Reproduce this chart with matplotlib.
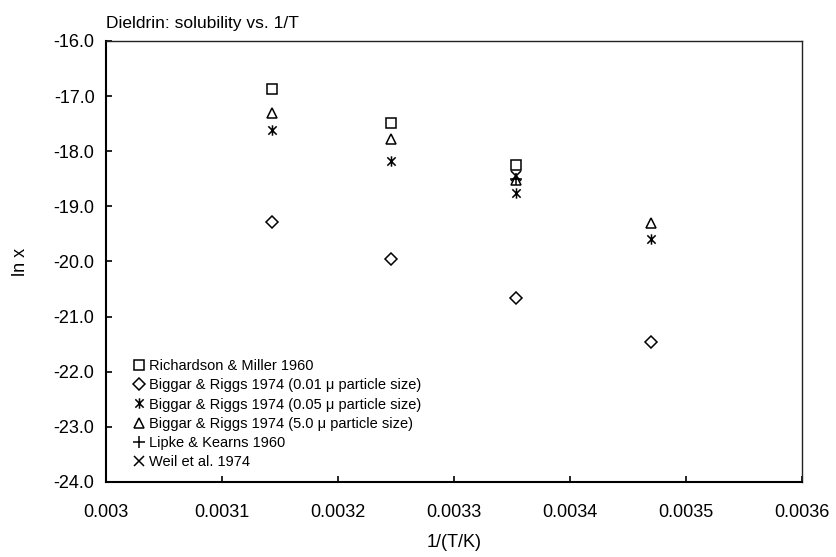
import matplotlib
matplotlib.use("Agg")
import matplotlib.pyplot as plt
from matplotlib.path import Path
from matplotlib.ticker import FuncFormatter, MultipleLocator

plt.rcParams['font.family'] = ['Liberation Sans', 'DejaVu Sans']

# 1/T values (K^-1) for 45, 35, 25 and 15 degC
inv_T = [0.0031432, 0.0032457, 0.0033540, 0.0034704]

richardson_1960 = [-16.87, -17.48, -18.25]
biggar_001 = [-19.29, -19.95, -20.67, -21.46]
biggar_005 = [-17.61, -18.18, -18.76, -19.60]
biggar_50 = [-17.30, -17.78, -18.53, -19.30]
lipke_inv_T = [0.0033540]
lipke_1960 = [-18.50]
weil_inv_T = [0.0033540]
weil_1974 = [-18.45]

x_ticks = [0.003, 0.0031, 0.0032, 0.0033, 0.0034, 0.0035, 0.0036]

# asterisk marker: a cross with a vertical bar through it
star = Path([(-1, -1), (1, 1), (-1, 1), (1, -1), (0, -1.25), (0, 1.25)],
            [Path.MOVETO, Path.LINETO, Path.MOVETO, Path.LINETO,
             Path.MOVETO, Path.LINETO])

fig = plt.figure(figsize=(8.37, 5.57), dpi=100)
ax = fig.add_axes([0.1263, 0.1347, 0.8315, 0.7917])

mk = dict(linestyle='none', color='black', markerfacecolor='none',
          markeredgewidth=1.1)
ax.plot(inv_T[:3], richardson_1960, marker='s', markersize=6.8,
        label='Richardson & Miller 1960', **mk)
ax.plot(inv_T, biggar_001, marker='D', markersize=6.0,
        label='Biggar & Riggs 1974 (0.01 \u03bc particle size)', **mk)
ax.plot(inv_T, biggar_005, marker=star, markersize=7.5,
        label='Biggar & Riggs 1974 (0.05 \u03bc particle size)', **mk)
ax.plot(inv_T, biggar_50, marker='^', markersize=6.8,
        label='Biggar & Riggs 1974 (5.0 \u03bc particle size)', **mk)
ax.plot(lipke_inv_T, lipke_1960, marker='+', markersize=8,
        label='Lipke & Kearns 1960', **mk)
ax.plot(weil_inv_T, weil_1974, marker='x', markersize=6.5,
        label='Weil et al. 1974', **mk)

ax.set_xlim(0.003, 0.0036)
ax.set_ylim(-24, -16)
ax.set_xticks(x_ticks)
ax.xaxis.set_major_formatter(FuncFormatter(lambda v, p: '{:g}'.format(round(v, 5))))
ax.yaxis.set_major_locator(MultipleLocator(1.0))
ax.yaxis.set_major_formatter(FuncFormatter(lambda v, p: '{:.1f}'.format(v)))
ax.tick_params(direction='in', length=4, width=1.2, labelsize=13,
               colors='black', pad=8)
ax.tick_params(axis='x', pad=16)

for side in ('left', 'bottom'):
    ax.spines[side].set_linewidth(1.5)
for side in ('top', 'right'):
    ax.spines[side].set_linewidth(1.0)
    ax.spines[side].set_color('#222222')

ax.set_xlabel('1/(T/K)', fontsize=13, labelpad=9)
ax.set_ylabel('ln x', fontsize=13, labelpad=18)
ax.set_title('Dieldrin: solubility vs. 1/T', fontsize=12.5, loc='left', pad=9)

ax.legend(loc='lower left', frameon=False, fontsize=10.5, handlelength=0.8,
          handletextpad=0.3, labelspacing=0.35, borderaxespad=0.5,
          bbox_to_anchor=(0.02, 0.0))

fig.savefig('out.png', dpi=100)
